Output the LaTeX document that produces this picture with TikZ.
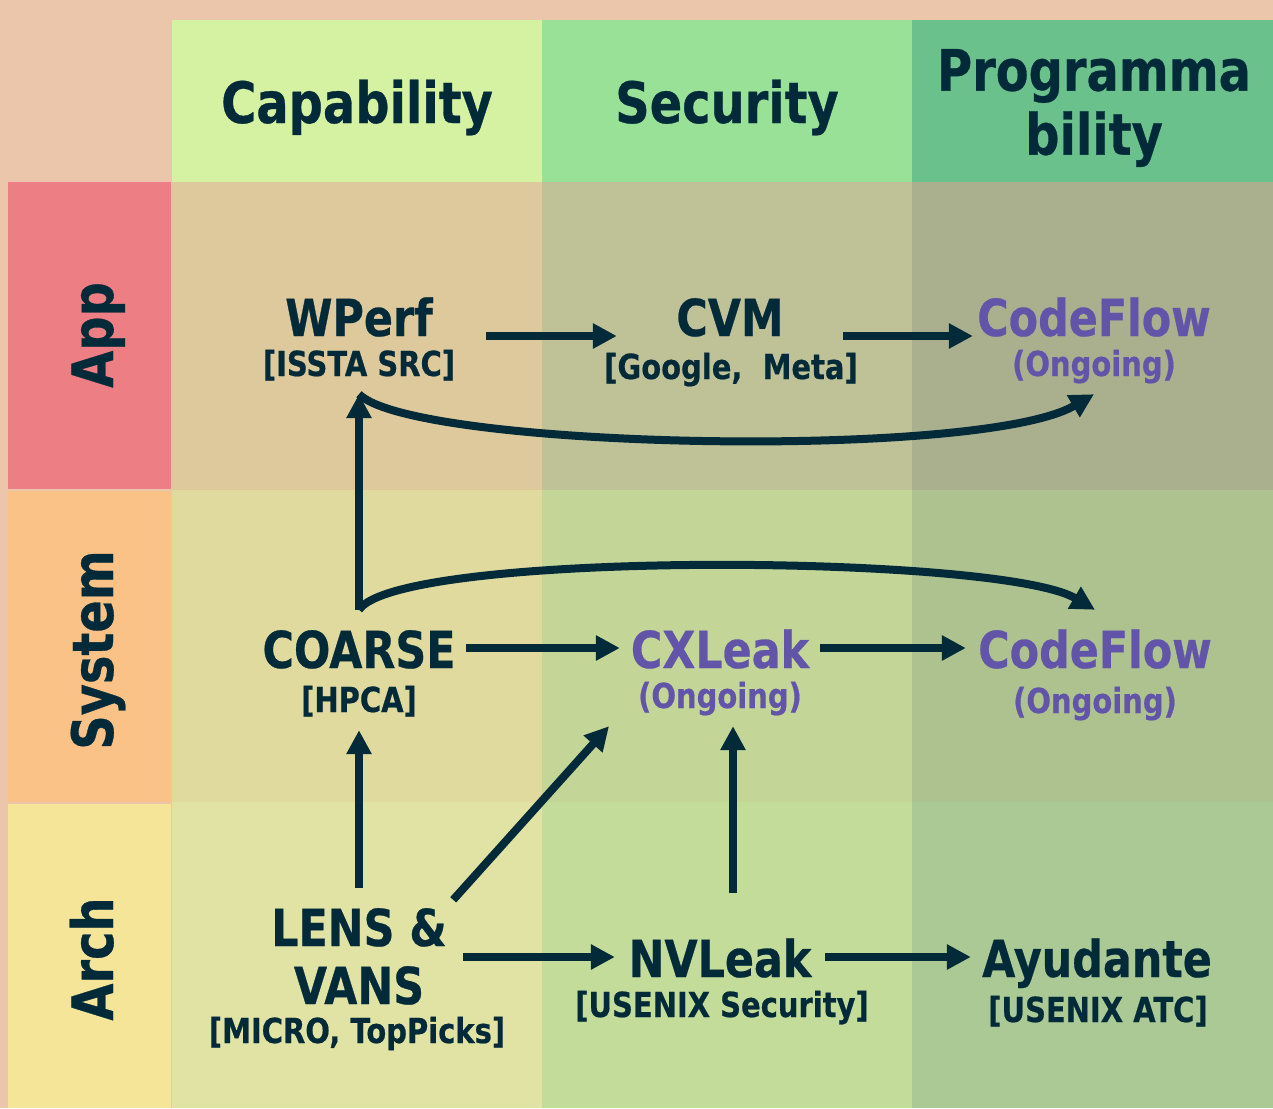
\documentclass[tikz,border=0pt]{standalone}
\usepackage{fontspec}
\setmainfont{DejaVu Sans}[FakeStretch=0.84, BoldFeatures={FakeBold=0.5}]
\usetikzlibrary{arrows.meta}

\definecolor{peach}{HTML}{EBC6AB}
\definecolor{ink}{HTML}{022A39}
\definecolor{ongoing}{HTML}{6254A8}
% column heads and row heads
\definecolor{capHead}{HTML}{D4F2A2}
\definecolor{secHead}{HTML}{98E196}
\definecolor{progHead}{HTML}{6BC18C}
\definecolor{appHead}{HTML}{EC7E84}
\definecolor{sysHead}{HTML}{FAC286}
\definecolor{archHead}{HTML}{F5E599}
% body cells, row by row
\definecolor{appCap}{HTML}{DEC99C}
\definecolor{appSec}{HTML}{BFC197}
\definecolor{appProg}{HTML}{AAAF8E}
\definecolor{sysCap}{HTML}{E1DA9E}
\definecolor{sysSec}{HTML}{C4D598}
\definecolor{sysProg}{HTML}{ADC28F}
\definecolor{archCap}{HTML}{E1E3A5}
\definecolor{archSec}{HTML}{C4DC9A}
\definecolor{archProg}{HTML}{ABC994}

\newcommand{\cell}[5]{\fill[#1] (#2,#3) rectangle (#4,#5)}

\begin{document}
\begin{tikzpicture}[x=1pt,y=-1pt,
	every node/.style={text=ink},
	head/.style={font=\bfseries\fontsize{57}{64}\selectfont, align=center},
	layer/.style={font=\bfseries\fontsize{57}{64}\selectfont, rotate=90, anchor=base},
	proj/.style={font=\bfseries\fontsize{51}{58}\selectfont, anchor=base,
		text height=38pt, text depth=10pt, inner ysep=20pt, inner xsep=0pt},
	venue/.style={font=\bfseries\fontsize{34.5}{40}\selectfont, anchor=base,
		text height=25pt, text depth=7pt, inner ysep=11pt, inner xsep=0pt},
	todo/.style={text=ongoing},
	arr/.style={line width=8pt, draw=ink, -{Triangle[length=24pt,width=24pt]}}]
	\cell{peach}{0}{0}{1273}{1108};
	% header row
	\cell{capHead}{172}{20}{542}{182};
	\cell{secHead}{542}{20}{912}{182};
	\cell{progHead}{912}{20}{1273}{182};
	% layer column
	\cell{appHead}{8}{182}{171}{489};
	\cell{sysHead}{8}{491}{171}{802};
	\cell{archHead}{8}{804}{171}{1108};
	% body
	\cell{appCap}{172}{182}{542}{490};
	\cell{appSec}{542}{182}{912}{490};
	\cell{appProg}{912}{182}{1273}{490};
	\cell{sysCap}{172}{490}{542}{802};
	\cell{sysSec}{542}{490}{912}{802};
	\cell{sysProg}{912}{490}{1273}{802};
	\cell{archCap}{172}{802}{542}{1108};
	\cell{archSec}{542}{802}{912}{1108};
	\cell{archProg}{912}{802}{1273}{1108};

	\node[head, anchor=base] (cap) at (357,123) {Capability};
	\node[head, anchor=base] (sec) at (727,123) {Security};
	\node[head] (prog) at (1094,108) {Programma\\bility};
	\node[layer] (app) at (113,335) {App};
	\node[layer] (sys) at (113,650) {System};
	\node[layer] (arch) at (113,959) {Arch};

	% App
	\node[proj, minimum width=254pt] (wperf) at (359,336) {WPerf};
	\node[venue] (wperf-v) at (359,376) {[ISSTA SRC]};
	\node[proj, minimum width=226pt] (cvm) at (730,336) {CVM};
	\node[venue] (cvm-v) at (731,379) {[Google, \ Meta]};
	\node[proj, todo, minimum width=242pt] (flowA) at (1094,336) {CodeFlow};
	\node[venue, todo] (flowA-v) at (1094,376) {(Ongoing)};
	% System
	\node[proj, minimum width=214pt] (coarse) at (359,668) {COARSE};
	\node[venue] (coarse-v) at (359,712) {[HPCA]};
	\node[proj, todo, minimum width=200pt] (cxleak) at (720,668) {CXLeak};
	\node[venue, todo] (cxleak-v) at (720,708) {(Ongoing)};
	\node[proj, todo, minimum width=258pt] (flowS) at (1095,668) {CodeFlow};
	\node[venue, todo] (flowS-v) at (1095,713) {(Ongoing)};
	% Arch
	\node[proj, minimum width=208pt] (lens) at (359,946) {LENS \&};
	\node[proj] (vans) at (359,1004) {VANS};
	\node[venue] (lens-v) at (357,1043) {[MICRO, TopPicks]};
	\node[proj, minimum width=210pt] (nvleak) at (720,977) {NVLeak};
	\node[venue] (nvleak-v) at (722,1017) {[USENIX Security]};
	\node[proj, minimum width=252pt] (ayud) at (1097,977) {Ayudante};
	\node[venue] (ayud-v) at (1098,1022) {[USENIX ATC]};

	% flows along each layer
	\draw[arr] (wperf.base east) -- (cvm.base west);
	\draw[arr] (cvm.base east) -- (flowA.base west);
	\draw[arr] ([yshift=20pt]coarse.base east) -- ([yshift=20pt]cxleak.base west);
	\draw[arr] ([yshift=20pt]cxleak.base east) -- ([yshift=20pt]flowS.base west);
	\draw[arr] ([yshift=-11pt]lens.base east) -- ([yshift=20pt]nvleak.base west);
	\draw[arr] ([yshift=20pt]nvleak.base east) -- ([yshift=20pt]ayud.base west);
	% flows across layers
	\draw[arr] (lens.north) -- (coarse-v.south);
	\draw[arr] (coarse.north) -- (wperf-v.south);
	\draw[arr] ([xshift=13pt,yshift=26pt]nvleak.north) -- ([xshift=13pt]cxleak-v.south);
	\draw[arr] ([xshift=-10pt,yshift=-12pt]lens.north east) -- ([xshift=-111pt]cxleak-v.south);
	\draw[arr] (wperf-v.south) .. controls +(55,55) and +(-113,66) .. (flowA-v.south);
	\draw[arr] (coarse.north) .. controls +(40,-60) and +(-95,-56) .. (flowS.north);
\end{tikzpicture}
\end{document}
